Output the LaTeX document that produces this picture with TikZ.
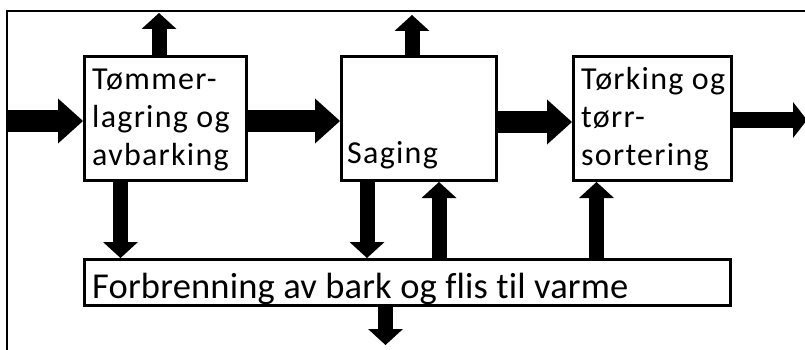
\documentclass[tikz,border=0pt]{standalone}
\usepackage{fontspec}
\setmainfont{Carlito}[Ligatures=NoCommon]
\usetikzlibrary{arrows.meta,positioning}
\tikzstyle{block} = [rectangle, draw, line width=3pt, inner sep=0pt]
\tikzstyle{boxtext} = [inner sep=0pt, align=left, anchor=base west,
    font=\fontsize{32}{38}\selectfont\addfontfeatures{LetterSpace=4}]
\tikzstyle{flow} = [draw, line width=21pt, -{Triangle[length=25pt, width=45pt, line width=0pt]}]
\tikzstyle{side} = [draw, line width=15pt, -{Triangle[length=16pt, width=35pt, line width=0pt]}]

\begin{document}
\begin{tikzpicture}[x=1pt, y=-1pt]
	\useasboundingbox (0,0) rectangle (805,350);
	% ramme
	\draw [line width=2pt] (6.5,360) -- (6.5,11.5) -- (815,11.5);

	\node [block, minimum width=162pt, minimum height=124pt] (lagring) at (165.5,118.5) {};
	\node [block, minimum width=155pt, minimum height=124pt] (saging) at (419,118.5) {};
	\node [block, minimum width=158pt, minimum height=124pt] (torking) at (652.5,118.5) {};
	\node [block, minimum width=646pt, minimum height=46pt] (forbrenning) at (407.5,282.5) {};

	% tekst (base = siste linje)
	\node [boxtext] (lagringtekst) at (92,165) {Tømmer-\\lagring og\\avbarking};
	\node [boxtext] (sagingtekst) at (347,163) {Saging};
	\node [boxtext] (torkingtekst) at (581,165) {Tørking og\\tørr-\\sortering};
	\node [inner sep=0pt, anchor=base west, font=\fontsize{36.5}{40}\selectfont\addfontfeatures{LetterSpace=0.5}] (forbrenningtekst)
		at (92,298) {Forbrenning av bark og flis til varme};

	\coordinate (inn) at (6.5,121);
	\coordinate (ut) at (807,120);
	\coordinate (opp1) at (159,13);
	\coordinate (opp2) at (412,15);
	\coordinate (ned) at (385.5,345);

	\path [flow] (inn) -- (inn -| lagring.west);
	\path [flow] (lagring.east |- 0,121) -- (saging.west |- 0,121);
	\path [flow] (saging.east |- 0,122) -- (torking.west |- 0,122);
	\path [flow, line width=16pt, -{Triangle[length=14pt, width=36pt, line width=0pt]}] (torking.east |- ut) -- (ut);

	\path [side] (lagring.north -| opp1) -- (opp1);
	\path [side] (saging.north -| opp2) -- (opp2);
	\path [side] (lagring.south -| 120.5,0) -- (forbrenning.north -| 120.5,0);
	\path [side] (saging.south -| 367,0) -- (forbrenning.north -| 367,0);
	\path [side] (forbrenning.north -| 439,0) -- (saging.south -| 439,0);
	\path [side] (forbrenning.north -| 596.5,0) -- (torking.south -| 596.5,0);
	\path [side] (forbrenning.south -| ned) -- (ned);
\end{tikzpicture}
\end{document}
